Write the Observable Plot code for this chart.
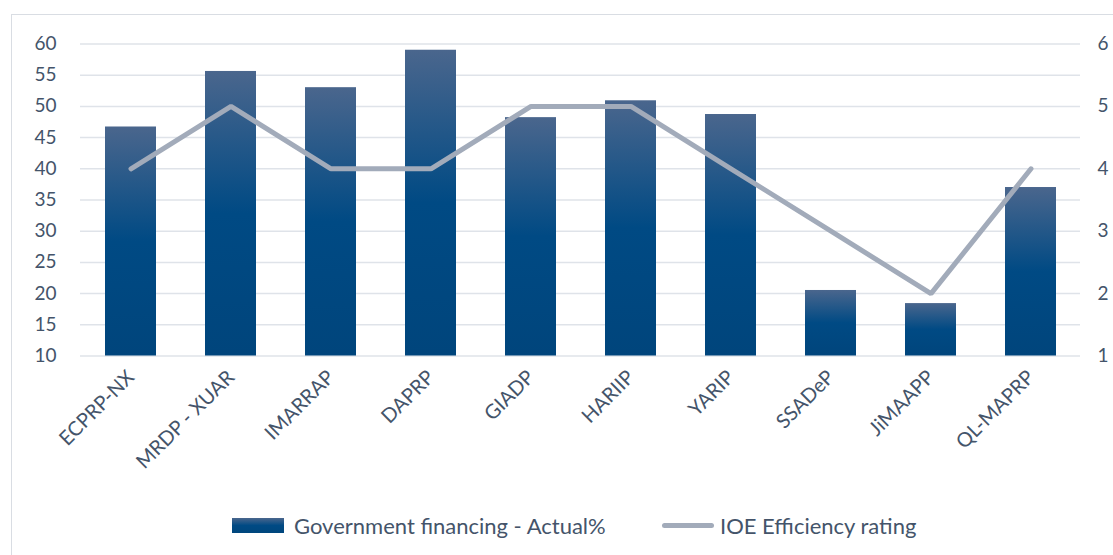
<!DOCTYPE html>
<html><head><meta charset="utf-8">
<script src="https://cdn.jsdelivr.net/npm/d3@7"></script>
<script src="https://cdn.jsdelivr.net/npm/@observablehq/plot@0.6"></script>
<style>
body{margin:0;background:#fff;font-family:Lato,"Noto Sans",sans-serif;}
#wrap{position:relative;width:1113px;height:555px;overflow:hidden;}
#frame{position:absolute;left:11px;top:14px;width:1200px;height:600px;border-left:1.5px solid #d9dde3;border-top:1.5px solid #d9dde3;box-sizing:border-box;}
#chart{position:absolute;left:0;top:0;}
#legend{position:absolute;top:510px;left:232px;height:30px;display:flex;align-items:center;font-size:22px;color:#44546a;white-space:nowrap;}
.sw{display:inline-block;}
</style></head>
<body><div id="wrap"><div id="frame"></div><div id="chart"></div>
<div id="legend">
<span class="sw" style="width:52px;height:15px;background:linear-gradient(#4a668d,#004a84 50%,#00467d);margin-right:10px"></span><span id="l1">Government financing - Actual%</span>
<span class="sw" id="sw2" style="width:52px;height:5px;border-radius:3px;background:#a2abba;margin-left:27px;margin-right:6px"></span><span>IOE Efficiency rating</span>
</div></div>
<script>
const projects = ["ECPRP-NX","MRDP - XUAR","IMARRAP","DAPRP","GIADP","HARIIP","YARIP","SSADeP","JiMAAPP","QL-MAPRP"];
const financing = [46.7,55.6,53.0,59.0,48.2,50.9,48.7,20.5,18.4,37.0];
const efficiency = [4,5,4,4,5,5,4,3,2,4];
const leftTicks = [10,15,20,25,30,35,40,45,50,55,60];
const rightTicks = [1,2,3,4,5,6];

const toLeft = r => 10 + (r - 1) * 10;
const bars = projects.map((p,i)=>({p, v: financing[i]}));
const pts = projects.map((p,i)=>({p, r: efficiency[i]}));

const plot = Plot.plot({
  width: 1113, height: 490,
  marginLeft: 80, marginRight: 33, marginTop: 43.5, marginBottom: 134.5,
  style: {fontFamily: "Lato, 'Noto Sans', sans-serif", fontSize: "19px", color: "#44546a", background: "transparent"},
  x: {domain: projects, paddingInner: 0.49, paddingOuter: 0.245, label: null},
  y: {domain: [10, 60], label: null},
  marks: [
    () => {
      const s = d3.create("svg:defs");
      const g = s.append("linearGradient").attr("id","barGrad").attr("x1",0).attr("y1",0).attr("x2",0).attr("y2",1);
      g.append("stop").attr("offset","0%").attr("stop-color","#4a668d");
      g.append("stop").attr("offset","50%").attr("stop-color","#004a84");
      g.append("stop").attr("offset","100%").attr("stop-color","#00457c");
      return s.node();
    },
    Plot.gridY(leftTicks, {stroke: "#dfe3e9", strokeOpacity: 1, strokeWidth: 1.5}),
    Plot.barY(bars, {x: "p", y1: 10, y2: "v", fill: "url(#barGrad)"}),
    Plot.line(pts, {x: "p", y: d => toLeft(d.r), stroke: "#a2abba", strokeWidth: 5, strokeLinecap: "round", strokeLinejoin: "miter"}),
    Plot.axisY(leftTicks, {anchor: "left", tickSize: 0, tickPadding: 24, fontSize: 19}),
    Plot.axisY(rightTicks.map(toLeft), {anchor: "right", tickSize: 0, tickPadding: 17, tickFormat: d => String((d - 10) / 10 + 1), fontSize: 19}),
    Plot.axisX({tickSize: 0, tickRotate: -45, tickPadding: 18, fontSize: 20})
  ]
});
document.getElementById("chart").appendChild(plot);
const l1 = document.getElementById("l1");
const sw2 = document.getElementById("sw2");
const gap = 662 - (232 + 52 + 10 + l1.getBoundingClientRect().width);
sw2.style.marginLeft = Math.max(10, gap) + "px";
</script></body></html>
